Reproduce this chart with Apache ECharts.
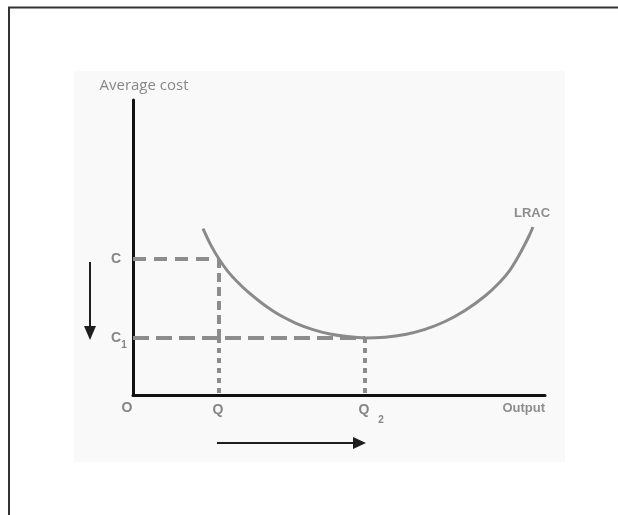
<!DOCTYPE html>
<html><head><meta charset="utf-8">
<script src="https://cdn.jsdelivr.net/npm/echarts@6/dist/echarts.min.js"></script>
<style>html,body{margin:0;padding:0;background:#fff}#c{width:618px;height:515px}</style>
</head><body><div id="c"></div>
<script>
// ---- data ----
const xRange = [0, 100];
const yRange = [0, 100];
const lracX = [16.99, 18.93, 20.87, 23.06, 25.24, 27.91, 30.83, 33.25, 35.68, 39.56, 43.69, 47.82, 51.94, 56.31, 61.17, 66.02, 70.87, 75.73, 80.58, 85.44, 89.08, 91.50, 93.45, 94.90, 96.12, 97.09];
const lracY = [56.41, 50.71, 46.10, 41.83, 38.47, 34.92, 31.59, 29.15, 27.02, 24.31, 22.17, 20.68, 19.80, 19.32, 19.59, 20.51, 22.24, 24.92, 28.64, 33.56, 38.31, 42.37, 46.78, 50.51, 53.90, 56.95];
const qLevels = [20.87, 56.31];   // Q, Q2
const cLevels = [46.10, 19.32];   // C, C1
const axisNames = ['Output', 'Average cost'];
const curveName = 'LRAC';

const Q = qLevels[0], Q2 = qLevels[1], C = cLevels[0], C1 = cLevels[1];
const grey = '#858585';
const dashGrey = '#8c8c8c';
const FONT = '"Liberation Sans", Arial, sans-serif';

const chart = echarts.init(document.getElementById('c'), null, {renderer: 'canvas'});

function dashed(points, dash) {
  return {
    type: 'line', data: points, symbol: 'none', silent: true, z: 2,
    lineStyle: {color: dashGrey, width: 4, type: dash}
  };
}

const option = {
  animation: false,
  backgroundColor: '#ffffff',
  graphic: [
    {type: 'rect', shape: {x: 74, y: 71, width: 491, height: 391}, style: {fill: '#f9f9f9'}, z: -10},
    {type: 'line', shape: {x1: 8, y1: 7.5, x2: 618, y2: 7.5}, style: {stroke: '#333', lineWidth: 2}, z: -5},
    {type: 'line', shape: {x1: 9, y1: 7, x2: 9, y2: 515}, style: {stroke: '#333', lineWidth: 2}, z: -5}
  ],
  grid: {left: 133, right: 73, top: 100, bottom: 120, containLabel: false},
  xAxis: {
    type: 'value', min: xRange[0], max: xRange[1],
    axisLine: {show: true, onZero: false, lineStyle: {color: '#111', width: 3}},
    axisTick: {show: false}, axisLabel: {show: false}, splitLine: {show: false}
  },
  yAxis: {
    type: 'value', min: yRange[0], max: yRange[1],
    name: axisNames[1], nameLocation: 'end', nameGap: 7,
    nameTextStyle: {color: '#888', fontFamily: '"Open Sans", sans-serif', fontSize: 15, padding: [0, 0, 0, 22]},
    axisLine: {show: true, onZero: false, lineStyle: {color: '#111', width: 3}},
    axisTick: {show: false}, axisLabel: {show: false}, splitLine: {show: false}
  },
  series: [
    dashed([[0, C], [Q, C]], [13, 8]),
    dashed([[0, C1], [Q2, C1]], [16, 7]),
    dashed([[Q, C], [Q, C1]], [9, 5]),
    dashed([[Q, C1], [Q, 0]], [5, 5]),
    dashed([[Q2, C1], [Q2, 0]], [5, 5]),
    {
      type: 'line', name: curveName, z: 3,
      data: lracX.map((x, i) => [x, lracY[i]]),
      smooth: 0.3, symbol: 'none', silent: true,
      lineStyle: {color: '#8a8a8a', width: 3}
    },
    {
      type: 'custom', z: 5, silent: true, clip: false,
      data: [[0, 0]],
      renderItem: function (params, api) {
        const o = api.coord([0, 0]);
        const pX = api.coord([xRange[1], 0]);
        const pC = api.coord([0, C]);
        const pC1 = api.coord([0, C1]);
        const pQ = api.coord([Q, 0]);
        const pQ2 = api.coord([Q2, 0]);
        const pEnd = api.coord([lracX[lracX.length - 1], lracY[lracY.length - 1]]);
        const txt = (x, y, s, size, weight, align, fill) => ({
          type: 'text', x: x, y: y,
          style: {text: s, fill: fill || grey, font: (weight || 'bold') + ' ' + size + 'px ' + FONT,
                  align: align || 'center', verticalAlign: 'middle'}
        });
        const ax = pC[0] - 43;
        const ay = o[1] + 48;
        return {
          type: 'group',
          children: [
            txt(o[0] - 6, o[1] + 13, 'O', 14),
            txt(pQ[0] - 1, pQ[1] + 15, 'Q', 14),
            txt(pQ2[0] - 1, pQ2[1] + 15, 'Q', 14),
            txt(pQ2[0] + 16, pQ2[1] + 25, '2', 10),
            txt(pC[0] - 17, pC[1], 'C', 14),
            txt(pC1[0] - 17, pC1[1], 'C', 14),
            txt(pC1[0] - 9, pC1[1] + 7, '1', 10),
            txt(pEnd[0] - 1, pEnd[1] - 14, curveName, 13, 'bold', 'center', '#8e8e8e'),
            txt(pX[0], pX[1] + 13, axisNames[0], 13, 'bold', 'right', '#8e8e8e'),
            {type: 'line', shape: {x1: ax, y1: pC[1] + 3, x2: ax, y2: pC1[1] - 8}, style: {stroke: '#1e1e1e', lineWidth: 2}},
            {type: 'polygon', shape: {points: [[ax - 6, pC1[1] - 12], [ax + 6, pC1[1] - 12], [ax, pC1[1] + 2]]}, style: {fill: '#1e1e1e'}},
            {type: 'line', shape: {x1: pQ[0] - 2, y1: ay, x2: pQ2[0] - 8, y2: ay}, style: {stroke: '#1e1e1e', lineWidth: 2}},
            {type: 'polygon', shape: {points: [[pQ2[0] - 12, ay - 6], [pQ2[0] - 12, ay + 6], [pQ2[0] + 1, ay]]}, style: {fill: '#1e1e1e'}}
          ]
        };
      }
    }
  ]
};
chart.setOption(option);
</script>
</body></html>
